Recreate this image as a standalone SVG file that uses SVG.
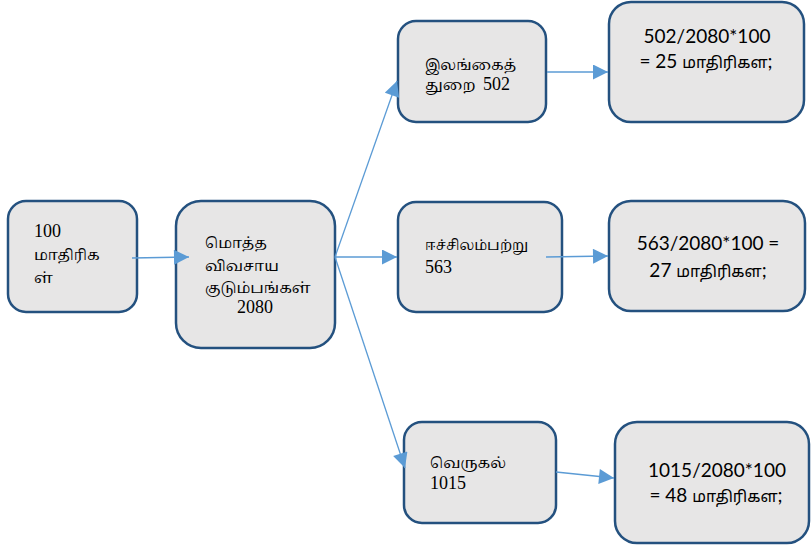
<svg xmlns="http://www.w3.org/2000/svg" width="811" height="547" viewBox="0 0 811 547">
<style>
.box{fill:#E7E6E6;stroke:#24517F;stroke-width:2.5}
.ser{font-family:"Liberation Serif","Noto Serif Tamil","Noto Sans Tamil",serif;font-size:15px;fill:#000}
.num{font-size:18px}
.san{font-family:Lato,"Liberation Sans","Noto Sans Tamil",sans-serif;font-size:19px;fill:#000}
.ta{font-size:16px}
.c{stroke:#5B9BD5;stroke-width:1.3;fill:none;marker-end:url(#ah)}
</style>
<defs>
<marker id="ah" viewBox="0 0 10 10" refX="10" refY="5" markerUnits="userSpaceOnUse" markerWidth="17" markerHeight="15" orient="auto">
<path d="M0,0 L10,5 L0,10 Z" fill="#5B9BD5"/>
</marker>
</defs>
<rect width="811" height="547" fill="#fff"/>
<g id="n1">
<rect class="box" x="8" y="201" width="129" height="111" rx="18"/>
<text class="ser num" x="34" y="237">100</text>
<text class="ser" x="34" y="260">மாதிரிக</text>
<text class="ser" x="34" y="283">ள்</text>
</g>
<g id="n2">
<rect class="box" x="176" y="201" width="159" height="147" rx="25"/>
<text class="ser" x="205" y="248">மொத்த</text>
<text class="ser" x="205" y="271">விவசாய</text>
<text class="ser" x="205" y="293">குடும்பங்கள்</text>
<text class="ser num" x="237" y="313">2080</text>
</g>
<g id="n3">
<rect class="box" x="398" y="21" width="148" height="101" rx="18"/>
<text class="ser" x="425" y="70">இலங்கைத்</text>
<text class="ser" x="425" y="90">துறை</text>
<text class="ser num" x="483" y="90">502</text>
</g>
<g id="n4">
<rect class="box" x="609" y="2" width="195" height="120" rx="22"/>
<text class="san" x="707" y="43" text-anchor="middle">502/2080*100</text>
<text class="san" x="706" y="68" text-anchor="middle">= 25 <tspan class="ta">மாதிரிகள</tspan>;</text>
</g>
<g id="n5">
<rect class="box" x="398" y="202" width="164" height="110" rx="18"/>
<text class="ser" x="425" y="250" style="font-size:14px">ஈச்சிலம்பற்று</text>
<text class="ser num" x="425" y="273">563</text>
</g>
<g id="n6">
<rect class="box" x="609" y="201" width="196" height="110" rx="22"/>
<text class="san" x="708" y="250" text-anchor="middle">563/2080*100 =</text>
<text class="san" x="708" y="277" text-anchor="middle">27 <tspan class="ta">மாதிரிகள</tspan>;</text>
</g>
<g id="n7">
<rect class="box" x="404" y="422" width="152" height="101" rx="18"/>
<text class="ser" x="430" y="468">வெருகல்</text>
<text class="ser num" x="430" y="489">1015</text>
</g>
<g id="n8">
<rect class="box" x="615" y="422" width="194" height="121" rx="22"/>
<text class="san" x="717" y="477" text-anchor="middle">1015/2080*100</text>
<text class="san" x="716" y="502" text-anchor="middle">= 48 <tspan class="ta">மாதிரிகள</tspan>;</text>
</g>
<g id="connectors">
<line class="c" x1="132" y1="258" x2="189" y2="257"/>
<line class="c" x1="335" y1="257" x2="397" y2="81"/>
<line class="c" x1="335" y1="257" x2="397" y2="257"/>
<line class="c" x1="335" y1="257" x2="405" y2="468"/>
<line class="c" x1="547" y1="72" x2="608" y2="72"/>
<line class="c" x1="546" y1="257" x2="608" y2="256"/>
<line class="c" x1="556" y1="472" x2="614" y2="478"/>
</g>
</svg>
